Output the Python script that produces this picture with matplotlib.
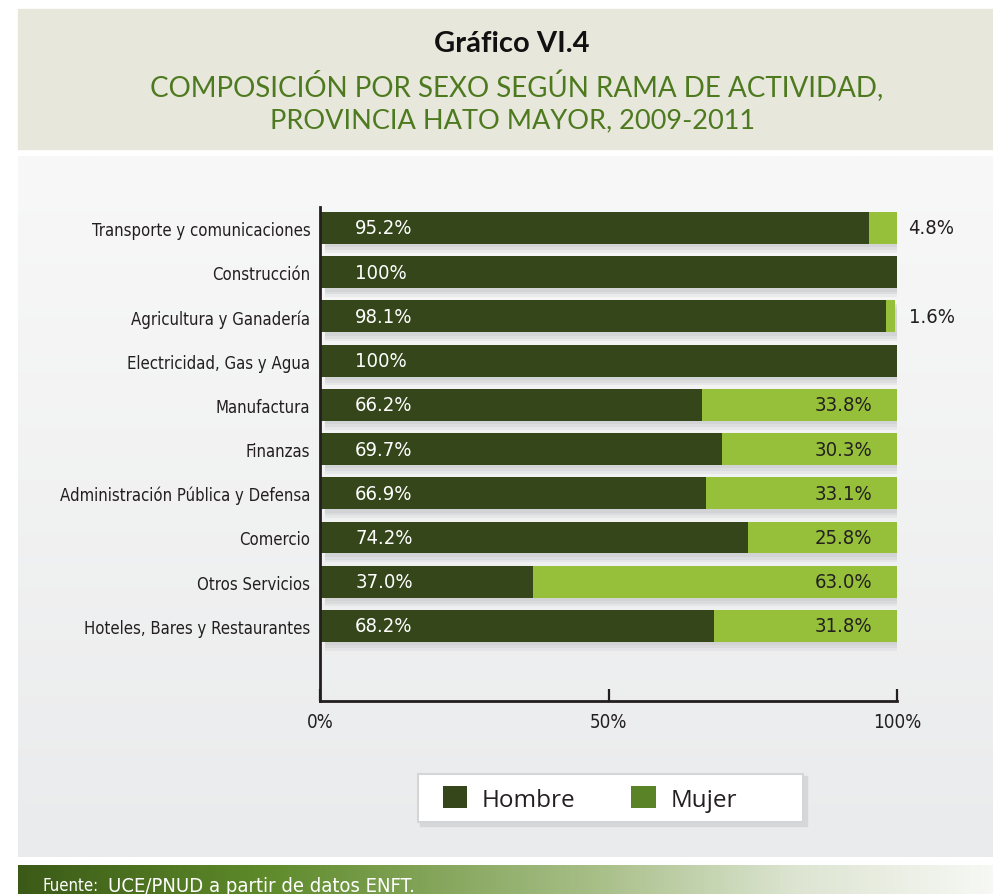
import numpy as np
import matplotlib
matplotlib.use("Agg")
import matplotlib.pyplot as plt
from matplotlib.patches import Patch, Rectangle
from matplotlib.colors import LinearSegmentedColormap

# data
categorias = [
    "Transporte y comunicaciones",
    "Construcción",
    "Agricultura y Ganadería",
    "Electricidad, Gas y Agua",
    "Manufactura",
    "Finanzas",
    "Administración Pública y Defensa",
    "Comercio",
    "Otros Servicios",
    "Hoteles, Bares y Restaurantes",
]
hombre = [95.2, 100, 98.1, 100, 66.2, 69.7, 66.9, 74.2, 37.0, 68.2]
mujer = [4.8, 0, 1.6, 0, 33.8, 30.3, 33.1, 25.8, 63.0, 31.8]
xticks = [0, 50, 100]
xtick_labels = ["0%", "50%", "100%"]

c_hombre = "#34461a"
c_mujer = "#96c03a"
c_mujer_leg = "#5a8227"
c_text = "#231f20"
cond = dict(fontstretch="condensed", family="DejaVu Sans")

fig = plt.figure(figsize=(9.93, 8.95), dpi=100)
W, H = 993, 895


def frac(x0, y0, x1, y1):
    # pixel box (top-left origin) -> figure fraction rect
    return [x0 / W, 1 - y1 / H, (x1 - x0) / W, (y1 - y0) / H]


# title panel
fig.patches.append(Rectangle((18 / W, 1 - 150 / H), 975 / W, 140 / H,
                             transform=fig.transFigure, color="#e8e7dc", zorder=0))

# chart panel with vertical gradient
bg = fig.add_axes(frac(18, 157, 993, 858), zorder=0)
grad = np.linspace(0, 1, 256).reshape(-1, 1)
cm_bg = LinearSegmentedColormap.from_list("bg", ["#f8f8f8", "#eaebec"])
bg.imshow(grad, aspect="auto", cmap=cm_bg, extent=[0, 1, 0, 1])
bg.axis("off")

# footer gradient
ft = fig.add_axes(frac(18, 866, 993, 895), zorder=0)
cm_ft = LinearSegmentedColormap.from_list(
    "ft", [(0, "#3b5a17"), (0.25, "#5e8a2a"), (0.6, "#a9c08a"),
           (0.8, "#dde5d2"), (1, "#f7f8f4")])
ft.imshow(np.linspace(0, 1, 256).reshape(1, -1), aspect="auto", cmap=cm_ft,
          extent=[0, 1, 0, 1])
ft.axis("off")
ft.text(0.025, 0.3, "Fuente:", color="white",
        fontsize=12, va="center", ha="left", transform=ft.transAxes, **cond)
ft.text(0.092, 0.3, "UCE/PNUD a partir de datos ENFT.", color="white",
        fontsize=14.5, va="center", ha="left", transform=ft.transAxes, **cond)

# titles
fig.text(512 / W, 1 - 44 / H, "Gráfico VI.4", ha="center", va="center",
         fontsize=21, fontweight="bold", color="#111111", family="Lato")
fig.text(517 / W, 1 - 86 / H, "COMPOSICIÓN POR SEXO SEGÚN RAMA DE ACTIVIDAD,",
         ha="center", va="center", fontsize=20, color="#4e7a1f", family="Lato")
fig.text(513 / W, 1 - 121 / H, "PROVINCIA HATO MAYOR, 2009-2011",
         ha="center", va="center", fontsize=19.5, color="#4e7a1f", family="Lato")

# main axes
ax = fig.add_axes(frac(320, 208, 897, 702), zorder=2)
ax.patch.set_visible(False)
y = np.arange(len(categorias))
h = 0.72

# soft shadows under bars
for off, a in [(0.2, 0.25), (0.14, 0.35), (0.08, 0.45)]:
    ax.barh(y + off, [100] * len(y), left=0.8, height=h, color="#c9cacc",
            alpha=a, zorder=1, linewidth=0)

ax.barh(y, hombre, height=h, color=c_hombre, zorder=3, linewidth=0)
ax.barh(y, mujer, left=hombre, height=h, color=c_mujer, zorder=3, linewidth=0)

for i, (hv, mv) in enumerate(zip(hombre, mujer)):
    lab = "100%" if hv == 100 else f"{hv:.1f}%"
    ax.text(6.1, i, lab, color="white", fontsize=14.5, va="center", ha="left",
            zorder=4, **cond)
    if mv == 0:
        continue
    if mv < 10:
        ax.text(102, i, f"{mv:.1f}%", color=c_text, fontsize=14.5, va="center",
                ha="left", zorder=4, **cond)
    else:
        ax.text(95.7, i, f"{mv:.1f}%", color=c_text, fontsize=14.5, va="center",
                ha="right", zorder=4, **cond)

ax.set_xlim(0, 100)
ax.set_ylim(10.7, -0.475)
ax.set_yticks(y)
ax.set_yticklabels(categorias, fontsize=12, color=c_text, **cond)
ax.set_xticks(xticks)
ax.set_xticklabels(xtick_labels, fontsize=13.5, color=c_text, **cond)
ax.tick_params(axis="y", length=0, pad=7)
ax.tick_params(axis="x", direction="in", length=9, width=1.6, color=c_text, pad=8)
for s in ["top", "right"]:
    ax.spines[s].set_visible(False)
for s in ["left", "bottom"]:
    ax.spines[s].set_linewidth(2)
    ax.spines[s].set_color(c_text)
    ax.spines[s].set_zorder(5)

# legend box drawn by hand, legend entries inside
fig.patches.append(Rectangle((420 / W, 1 - 827 / H), 387 / W, 50 / H,
                             transform=fig.transFigure, color="#d6d7d9",
                             zorder=1))
fig.patches.append(Rectangle((418 / W, 1 - 823 / H), 385 / W, 48 / H,
                             transform=fig.transFigure, facecolor="white",
                             edgecolor="#d4d5d7", linewidth=1.5, zorder=1))
handles = [Patch(facecolor=c_hombre, label="Hombre"),
           Patch(facecolor=c_mujer_leg, label="Mujer")]
leg = fig.legend(handles=handles, ncol=2, loc="center left",
                 bbox_to_anchor=(426 / W, 1 - 800 / H), frameon=False,
                 handlelength=1.0, handleheight=1.0, handletextpad=0.6,
                 columnspacing=2.3, borderpad=0.2,
                 prop={"family": "Open Sans", "size": 17.5})
for t in leg.get_texts():
    t.set_color(c_text)

fig.savefig("out.png", dpi=100)
